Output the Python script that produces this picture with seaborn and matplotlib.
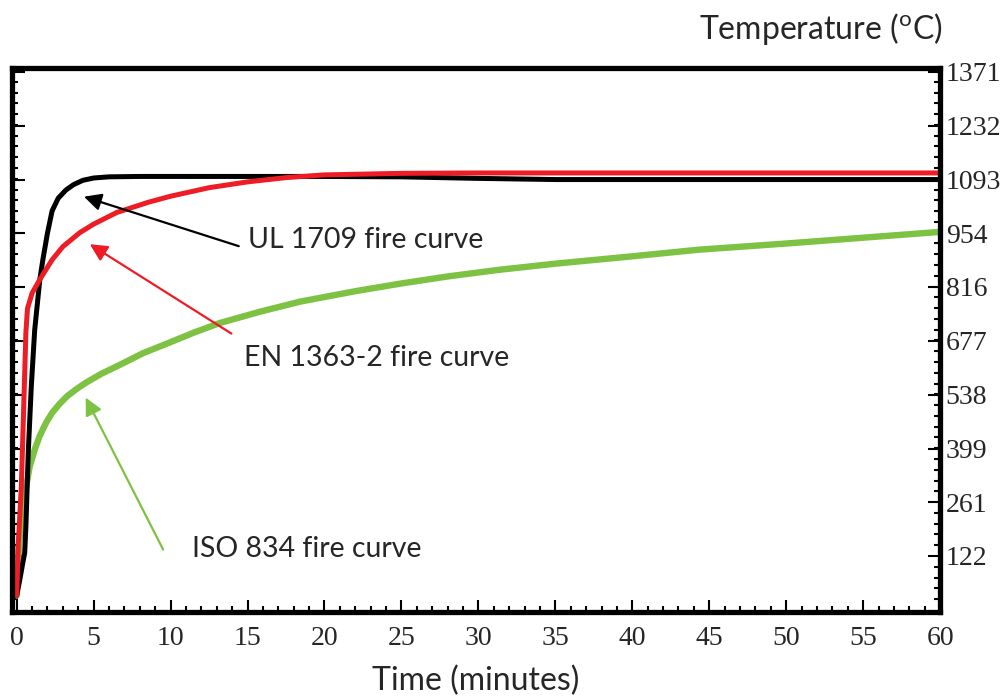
import numpy as np
import pandas as pd
import matplotlib
matplotlib.use("Agg")
import matplotlib.pyplot as plt
import seaborn as sns
from matplotlib.ticker import MultipleLocator, FixedLocator

# Values (time in minutes, temperature in degC)
ul_time = [0, 0.2, 0.4, 0.52, 0.6, 0.75, 0.95, 1.17, 1.5, 1.7, 2.0, 2.3, 2.7, 3.2, 3.7, 4.3, 5.0, 6.0, 8, 10, 15, 20, 25, 30, 35, 40, 50, 60]
ul_temp = [20, 60, 105, 130, 200, 388, 560, 705, 834, 886, 955, 1012, 1045, 1066, 1080, 1091, 1097, 1100, 1101, 1101, 1101, 1101, 1100, 1096, 1093, 1093, 1093, 1093]

en_time = [0, 0.1, 0.3, 0.45, 0.6, 0.7, 1.0, 1.5, 2.3, 3.0, 4.1, 5.0, 6.5, 8.6, 10, 12.5, 15, 17.5, 20, 25, 30, 45, 60]
en_temp = [20, 150, 300, 500, 700, 760, 800, 835, 886, 920, 956, 978, 1008, 1035, 1050, 1072, 1087, 1098, 1105, 1109, 1110, 1110, 1110]

iso_time = [0, 0.15, 0.4, 0.84, 1.2, 1.5, 1.9, 2.3, 2.8, 3.3, 3.9, 4.5, 5.5, 6.7, 8.2, 9.9, 11.5, 13.2, 15.8, 18.4, 22, 25, 28, 31.3, 35, 40, 44.3, 50, 55, 60]
iso_temp = [20, 150, 250, 352, 400, 432, 465, 491, 515, 535, 553, 569, 592, 615, 645, 672, 698, 723, 752, 778, 805, 825, 843, 860, 876, 895, 912, 928, 943, 958]

y_ticks = [122, 261, 399, 538, 677, 816, 954, 1093, 1232, 1371]
x_ticks = list(range(0, 61, 5))

black = "#000000"
red = "#EE1C25"
green = "#7DC242"

sns.set_style("white")
plt.rcParams["font.family"] = ["Lato", "DejaVu Sans"]
plt.rcParams["mathtext.fontset"] = "custom"
plt.rcParams["mathtext.rm"] = "Lato"

fig = plt.figure(figsize=(10.06, 7.0), dpi=100)
ax = fig.add_axes([0.012, 0.126, 0.9225, 0.777])

ul = pd.DataFrame({"t": ul_time, "T": ul_temp})
en = pd.DataFrame({"t": en_time, "T": en_temp})
iso = pd.DataFrame({"t": iso_time, "T": iso_temp})

sns.lineplot(data=iso, x="t", y="T", ax=ax, color=green, lw=4.6, zorder=2)
sns.lineplot(data=ul, x="t", y="T", ax=ax, color=black, lw=3.6, zorder=3)
sns.lineplot(data=en, x="t", y="T", ax=ax, color=red, lw=3.6, zorder=4)

ax.set_xlim(-0.3, 60.0)
ax.set_ylim(-22, 1381)

# frame and ticks
for sp in ax.spines.values():
    sp.set_linewidth(3.8)
    sp.set_color("black")
    sp.set_zorder(5)

ax.xaxis.set_major_locator(FixedLocator(x_ticks))
ax.xaxis.set_minor_locator(MultipleLocator(1))
ax.yaxis.set_major_locator(FixedLocator(y_ticks))
ax.yaxis.set_minor_locator(FixedLocator(list(np.arange(122 - 27.8 * 4, 1382, 27.8))))
ax.set_yticklabels([str(v) for v in y_ticks])

ax.tick_params(axis="both", which="both", direction="in", width=1.5, color="black")
ax.tick_params(axis="both", which="major", length=9)
ax.tick_params(axis="both", which="minor", length=4.5)
ax.tick_params(axis="x", which="both", bottom=True, top=False, labelbottom=True, pad=10)
ax.tick_params(axis="y", which="both", left=True, right=True, labelleft=False, labelright=True, pad=4)

for lab in ax.get_xticklabels() + ax.get_yticklabels():
    lab.set_family("Liberation Serif")
    lab.set_fontsize(20)

ax.set_xlabel("Time (minutes)", fontsize=23, labelpad=11)
ax.set_ylabel("")
fig.text(0.937, 0.958, "Temperature ($^{\\mathrm{o}}$C)", fontsize=23, ha="right", va="center")

# curve labels with arrows
arrow_kw = dict(arrowstyle="-|>", mutation_scale=26, lw=1.6)
ax.annotate("", xy=(4.2, 1051), xytext=(14.6, 919),
            arrowprops=dict(color=black, **arrow_kw), zorder=6)
ax.text(15.0, 937, "UL 1709 fire curve", fontsize=20.5, va="center", ha="left")

ax.annotate("", xy=(4.6, 930), xytext=(14.1, 692),
            arrowprops=dict(color=red, **arrow_kw), zorder=6)
ax.text(14.8, 633, "EN 1363-2 fire curve", fontsize=20.5, va="center", ha="left")

ax.annotate("", xy=(4.4, 537), xytext=(9.6, 132),
            arrowprops=dict(color=green, **arrow_kw), zorder=6)
ax.text(11.4, 140, "ISO 834 fire curve", fontsize=20.5, va="center", ha="left")

fig.savefig("out.png", dpi=100)
